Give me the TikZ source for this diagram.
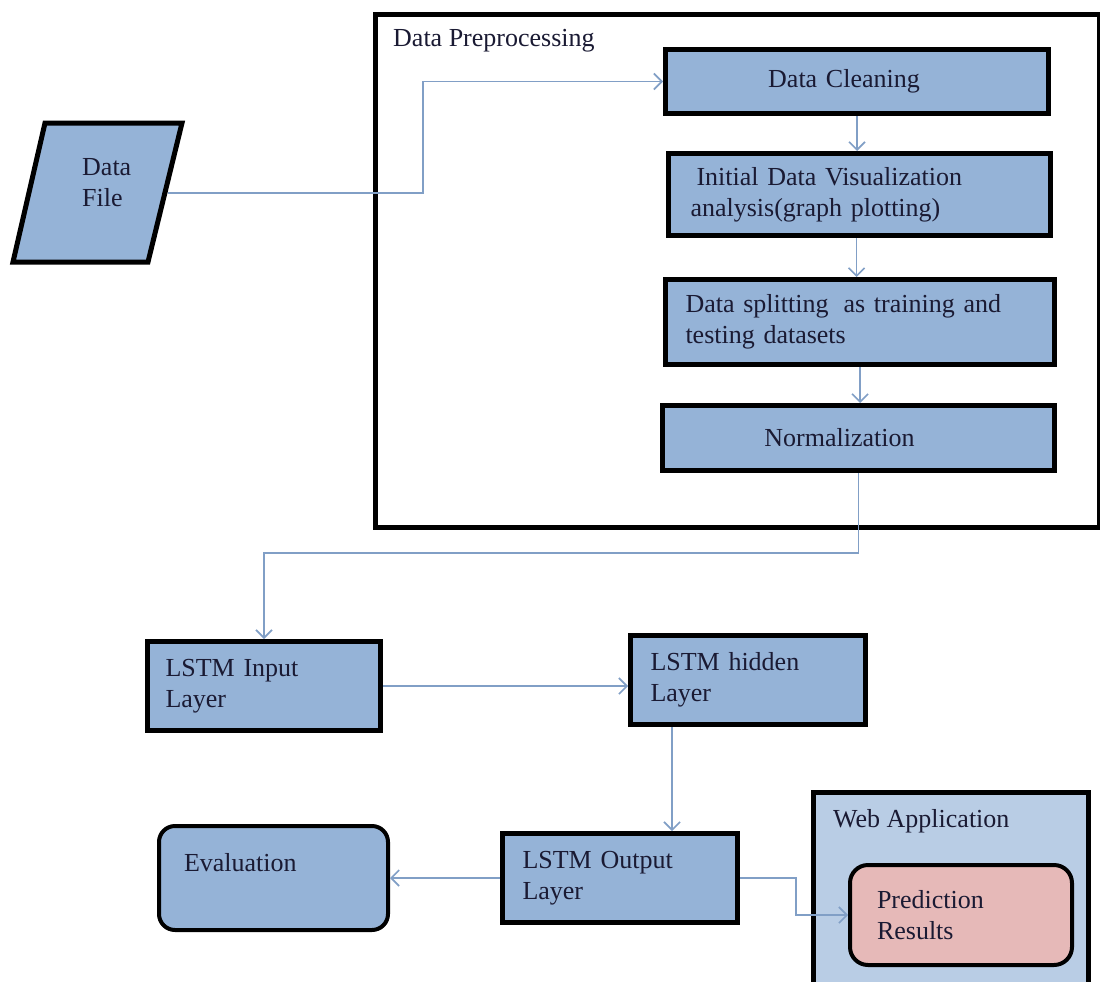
\documentclass[tikz,border=0pt]{standalone}
\usepackage{fontspec}
\setmainfont{Liberation Serif}
\usetikzlibrary{arrows.meta}

\definecolor{boxblue}{HTML}{95B3D7}
\definecolor{webblue}{HTML}{B9CDE5}
\definecolor{predpink}{HTML}{E6B9B8}
\definecolor{flowline}{HTML}{819FC6}
\definecolor{ink}{HTML}{1A1A33}

\begin{document}
\begin{tikzpicture}[x=1pt, y=-1pt,
  every node/.style={font=\fontsize{26}{31}\selectfont, text=ink},
  stage/.style={draw=black, line width=5pt, fill=boxblue, anchor=north west,
    inner sep=0pt, align=left},
  roundstage/.style={stage, line width=4pt, rounded corners=16pt},
  label/.style={inner sep=0pt, align=left},
  flow/.style={draw=flowline, line width=1.8pt,
    -{Straight Barb[length=8pt, width=16pt, line width=1.6pt]}},
]
\useasboundingbox (0,0) rectangle (1100,982);
\fill[white] (0,0) rectangle (1100,982);

% preprocessing frame
\node[draw=black, line width=5pt, anchor=north west, inner sep=0pt,
      minimum width=724pt, minimum height=513pt] (prep) at (373,12) {};
\node[label, anchor=base west] (preplabel) at (393,47) {Data Preprocessing};

% data file (parallelogram)
\draw[draw=black, line width=5pt, fill=boxblue, line join=miter]
  (45,123) -- (182,123) -- (148,262) -- (13,262) -- cycle;
\node[label, anchor=north west] (datafile) at (82,158) {Data\\File};
\coordinate (dfout) at (168,193);

% preprocessing steps
\node[stage, align=center, minimum width=383pt, minimum height=64pt,
      text width=383pt] (clean) at (663,47) {\hspace*{-26pt}Data Cleaning};
\node[stage, minimum width=382pt, minimum height=82pt,
      inner xsep=22pt, text width=338pt] (viz) at (666,151)
  {\hspace{6pt}Initial Data Visualization\\analysis(graph plotting)};
\node[stage, minimum width=389pt, minimum height=85pt,
      inner xsep=20pt, text width=349pt] (split) at (663,277)
  {Data splitting\hspace{6.5pt} as training and\\testing datasets};
\node[stage, align=center, minimum width=392pt, minimum height=65pt,
      text width=392pt] (norm) at (660,403) {\hspace*{-38pt}Normalization};

% network layers
\node[stage, minimum width=233pt, minimum height=89pt,
      inner xsep=18pt, text width=197pt] (input) at (145,639)
  {LSTM~Input\\Layer};
\node[stage, minimum width=235pt, minimum height=89pt,
      inner xsep=20pt, text width=195pt] (hidden) at (628,633)
  {LSTM~hidden\\Layer};
\node[stage, minimum width=235pt, minimum height=89pt,
      inner xsep=20pt, text width=195pt] (output) at (500,831)
  {LSTM~Output\\Layer};
\node[roundstage, minimum width=229pt, minimum height=104pt,
      inner xsep=25pt, text width=179pt] (eval) at (157,824)
  {Evaluation\\\mbox{}};

% web application panel (open at the bottom)
\node[fill=webblue, anchor=north west, inner sep=0pt,
      minimum width=275pt, minimum height=190pt] (webapp) at (813,792) {};
\draw[line width=5pt, line join=miter]
  (webapp.south west) -- (webapp.north west) -- (webapp.north east) -- (webapp.south east);
\node[label, anchor=base west] (weblabel) at (833,827) {Web Application};
\node[roundstage, fill=predpink, rounded corners=18pt,
      minimum width=222pt, minimum height=100pt,
      inner xsep=27pt, text width=168pt] (pred) at (848,863)
  {Prediction\\Results};

% connectors
\coordinate (turn) at (0,553);
\draw[flow] (dfout) -- (423,193) |- (clean.west);
\draw[flow] (clean.south) -- (clean.south |- viz.north);
\draw[flow] ([xshift=-3pt]viz.south) -- ([xshift=-3pt]viz.south |- split.north);
\draw[flow] (split.south) -- (split.south |- norm.north);
\draw[flow] (norm.south) |- (turn -| input.north) -- (input.north);
\draw[flow] (input.east) -- (input.east -| hidden.west);
\draw[flow] ([xshift=-76pt]hidden.south) -- ([xshift=-76pt]hidden.south |- output.north);
\draw[flow] (output.west) -- (output.west -| eval.east);
\draw[flow] (output.east) -- ++(56,0) |- (pred.west);
\end{tikzpicture}
\end{document}
